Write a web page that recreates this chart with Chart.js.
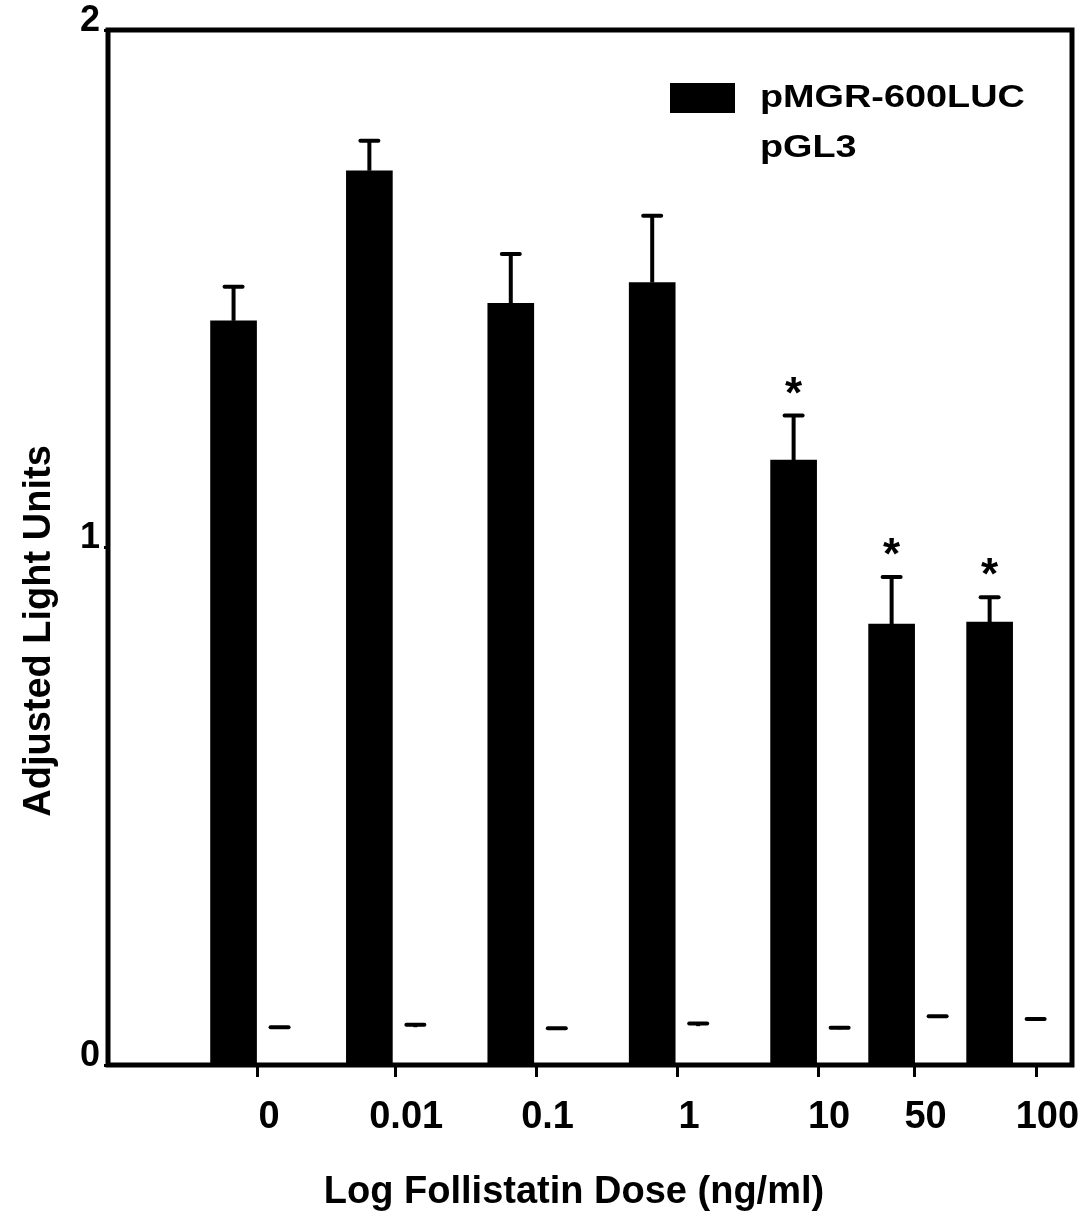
<!DOCTYPE html>
<html><head><meta charset="utf-8">
<script src="https://cdn.jsdelivr.net/npm/chart.js@4.4.0/dist/chart.umd.min.js"></script>
<style>html,body{margin:0;padding:0;background:#fff;}canvas{display:block;}</style>
</head><body>
<canvas id="c" width="1088" height="1214"></canvas>
<script>
// ---- data ----
const doseLabels = ['0', '0.01', '0.1', '1', '10', '50', '100'];
const doseTickPos = [0, 0.98, 1.99, 3, 4, 4.69, 5.56];
const groupPos = [-0.01, 0.96, 1.97, 2.98, 3.99, 4.69, 5.39];
const seriesNames = ['pMGR-600LUC', 'pGL3'];
const mgrValues = [1.438, 1.728, 1.472, 1.512, 1.169, 0.852, 0.856];
const mgrErrors = [0.066, 0.058, 0.095, 0.129, 0.086, 0.091, 0.048];
const pgl3Values = [0.070, 0.073, 0.068, 0.075, 0.069, 0.091, 0.086];
const pgl3Errors = [0.003, 0.005, 0.003, 0.005, 0.003, 0.003, 0.003];
const significance = ['', '', '', '', '*', '*', '*'];
const yTicks = [0, 1, 2];
const xTitle = 'Log Follistatin Dose (ng/ml)';
const yTitle = 'Adjusted Light Units';

const FONT = '"Liberation Sans", Arial, Helvetica, sans-serif';
const errorsBySet = [mgrErrors, pgl3Errors];
const colors = ['#000000', '#ffffff'];

const errorBarPlugin = {
  id: 'errorBars',
  afterDatasetsDraw(chart) {
    const ctx = chart.ctx;
    const ys = chart.scales.y;
    chart.data.datasets.forEach((ds, di) => {
      const meta = chart.getDatasetMeta(di);
      meta.data.forEach((el, i) => {
        const v = ds.data[i].y;
        const e = errorsBySet[di][i];
        const top = ys.getPixelForValue(v + e);
        const base = ys.getPixelForValue(v);
        ctx.save();
        ctx.strokeStyle = '#000';
        ctx.lineWidth = 4;
        ctx.beginPath();
        ctx.moveTo(el.x, base);
        ctx.lineTo(el.x, top);
        ctx.stroke();
        ctx.lineCap = 'round';
        ctx.lineWidth = 4;
        ctx.beginPath();
        ctx.moveTo(el.x - 9, top);
        ctx.lineTo(el.x + 9, top);
        ctx.stroke();
        if (di === 0 && significance[i]) {
          ctx.fillStyle = '#000';
          ctx.font = 'bold 44px ' + FONT;
          ctx.textAlign = 'center';
          ctx.textBaseline = 'alphabetic';
          ctx.fillText(significance[i], el.x, top - 8);
        }
        ctx.restore();
      });
    });
  }
};

const framePlugin = {
  id: 'frame',
  afterDraw(chart) {
    const ctx = chart.ctx;
    const a = chart.chartArea;
    ctx.save();
    ctx.strokeStyle = '#000';
    ctx.lineWidth = 5;
    ctx.strokeRect(a.left, a.top, a.right - a.left, a.bottom - a.top);
    // axis titles
    ctx.fillStyle = '#000';
    ctx.font = 'bold 38px ' + FONT;
    ctx.textAlign = 'center';
    ctx.textBaseline = 'alphabetic';
    ctx.fillText(xTitle, 574, 1203);
    ctx.translate(50, 631);
    ctx.rotate(-Math.PI / 2);
    ctx.fillText(yTitle, 0, 0);
    ctx.restore();
    // legend
    ctx.save();
    const items = chart.data.datasets;
    items.forEach((ds, i) => {
      const y0 = 83 + i * 50;
      ctx.fillStyle = ds.backgroundColor;
      ctx.fillRect(670, y0, 65, 30);
      ctx.save();
      ctx.translate(760, 107 + i * 50);
      ctx.scale(1.22, 1);
      ctx.fillStyle = '#000';
      ctx.font = 'bold 31px ' + FONT;
      ctx.textAlign = 'left';
      ctx.textBaseline = 'alphabetic';
      ctx.fillText(ds.label, 0, 0);
      ctx.restore();
    });
    ctx.restore();
  }
};

new Chart(document.getElementById('c'), {
  type: 'bar',
  data: {
    datasets: [
      { label: seriesNames[0], data: groupPos.map((x, i) => ({ x: x, y: mgrValues[i] })),
        backgroundColor: colors[0], borderWidth: 0, barThickness: 46 },
      { label: seriesNames[1], data: groupPos.map((x, i) => ({ x: x, y: pgl3Values[i] })),
        backgroundColor: colors[1], borderWidth: 0, barThickness: 46 }
    ]
  },
  options: {
    responsive: false,
    devicePixelRatio: 1,
    animation: false,
    layout: { padding: { top: 30, right: 16, left: 0, bottom: 0 } },
    plugins: { legend: { display: false }, tooltip: { enabled: false } },
    scales: {
      x: {
        type: 'linear',
        offset: false,
        min: -1.071, max: 5.814,
        afterBuildTicks(scale) { scale.ticks = doseTickPos.map(v => ({ value: v })); },
        afterFit(scale) { scale.height = 149; },
        grid: { display: true, offset: false, drawOnChartArea: false, drawTicks: true, tickLength: 12, lineWidth: 3, color: '#000' },
        border: { display: false },
        ticks: {
          autoSkip: false, maxRotation: 0, padding: 18, labelOffset: 11,
          color: '#000', font: { family: FONT, size: 38, weight: 'bold' },
          callback: (v, i) => doseLabels[i]
        }
      },
      y: {
        min: 0, max: 2,
        afterBuildTicks(scale) { scale.ticks = yTicks.map(v => ({ value: v })); },
        afterFit(scale) { scale.width = 108; },
        grid: { display: true, drawOnChartArea: false, drawTicks: true, tickLength: 4, lineWidth: 3, color: '#000' },
        border: { display: false },
        ticks: {
          padding: 4, labelOffset: -9,
          color: '#000', font: { family: FONT, size: 36, weight: 'bold' },
          callback: (v) => String(v)
        }
      }
    }
  },
  plugins: [errorBarPlugin, framePlugin]
});
</script>
</body></html>
